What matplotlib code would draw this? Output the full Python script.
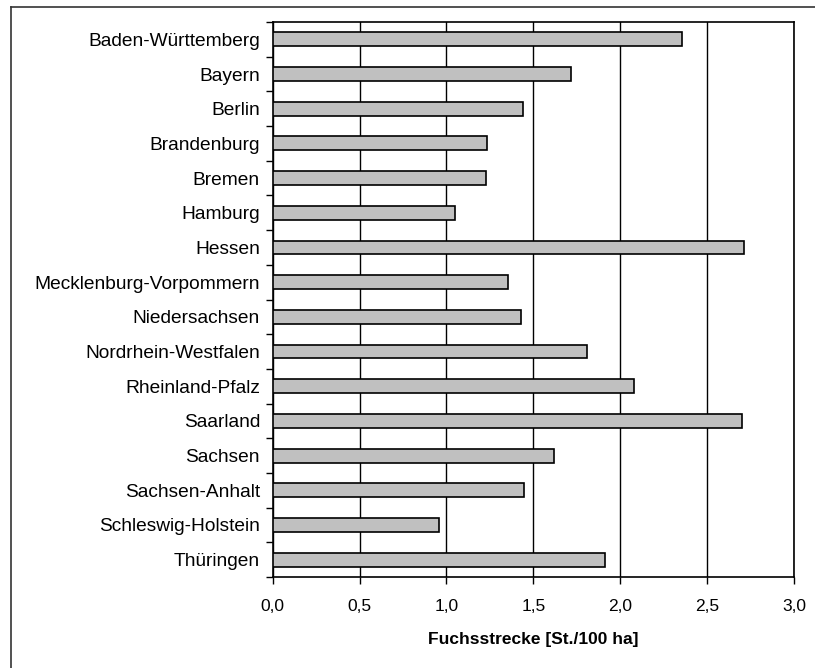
import matplotlib
matplotlib.use("Agg")
import matplotlib.pyplot as plt
from matplotlib.lines import Line2D
import numpy as np

categories = ["Baden-Württemberg", "Bayern", "Berlin", "Brandenburg", "Bremen",
              "Hamburg", "Hessen", "Mecklenburg-Vorpommern", "Niedersachsen",
              "Nordrhein-Westfalen", "Rheinland-Pfalz", "Saarland", "Sachsen",
              "Sachsen-Anhalt", "Schleswig-Holstein", "Thüringen"]
values = [2.355, 1.716, 1.440, 1.233, 1.225, 1.051, 2.708, 1.353, 1.430,
          1.809, 2.076, 2.700, 1.620, 1.447, 0.955, 1.913]
xticks = [0.0, 0.5, 1.0, 1.5, 2.0, 2.5, 3.0]
xticklabels = ["0,0", "0,5", "1,0", "1,5", "2,0", "2,5", "3,0"]
xlabel = "Fuchsstrecke [St./100 ha]"

plt.rcParams['font.family'] = ['Liberation Sans', 'DejaVu Sans']

W, H = 815, 668
fig = plt.figure(figsize=(W / 100, H / 100), dpi=100)
ax = fig.add_axes([272.5 / W, 91 / H, 522 / W, 555 / H])

n = len(categories)
y = np.arange(n)
ax.barh(y, values, height=0.40, color="#c0c0c0", edgecolor="black", linewidth=1.2, zorder=3)

ax.set_xlim(0, 3.0)
ax.set_ylim(n - 0.5, -0.5)

ax.set_xticks(xticks)
ax.set_xticklabels(xticklabels, fontsize=12.5)
ax.set_yticks(y)
ax.set_yticklabels(categories, fontsize=13.8)
ax.tick_params(axis="y", which="major", length=0, pad=9)
ax.set_yticks(np.arange(-0.5, n + 0.5, 1.0), minor=True)
ax.tick_params(axis="y", which="minor", length=5, width=1, direction="out")
ax.tick_params(axis="x", which="major", length=5, width=1, direction="out", pad=11)

ax.grid(axis="x", color="black", linewidth=1, zorder=0)
ax.set_axisbelow(True)
for s in ax.spines.values():
    s.set_linewidth(1.2)
    s.set_color("black")

ax.set_xlabel(xlabel, fontsize=12.5, fontweight="bold", labelpad=13)

# outer chart border (top and left visible)
fig.add_artist(Line2D([11 / W, 1.0], [1 - 6.5 / H, 1 - 6.5 / H], color="#333333", linewidth=1.2,
                      transform=fig.transFigure))
fig.add_artist(Line2D([11 / W, 11 / W], [0, 1 - 6.5 / H], color="#333333", linewidth=1.2,
                      transform=fig.transFigure))

fig.savefig("out.png", dpi=100)
